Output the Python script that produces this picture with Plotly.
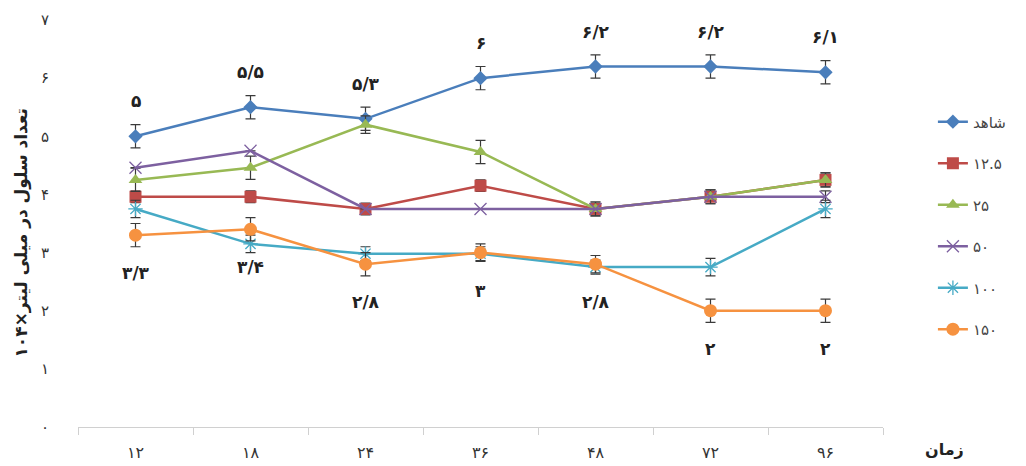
import plotly.graph_objects as go

# Sampling times (hours)
hours = [12, 18, 24, 36, 48, 72, 96]

# Cell counts (x10^4 per ml) for each treatment
control = [5.0, 5.5, 5.3, 6.0, 6.2, 6.2, 6.1]
c12_5 = [3.96, 3.96, 3.75, 4.15, 3.75, 3.96, 4.25]
c25 = [4.25, 4.46, 5.2, 4.73, 3.75, 3.96, 4.25]
c50 = [4.46, 4.75, 3.75, 3.75, 3.75, 3.96, 3.96]
c100 = [3.75, 3.15, 2.98, 2.98, 2.75, 2.75, 3.75]
c150 = [3.3, 3.4, 2.8, 3.0, 2.8, 2.0, 2.0]

# Standard errors
err_control = [0.2, 0.2, 0.2, 0.2, 0.2, 0.2, 0.2]
err_12_5 = [0.1, 0.1, 0.1, 0.1, 0.12, 0.12, 0.12]
err_25 = [0.2, 0.2, 0.15, 0.2, 0.12, 0.12, 0.12]
err_50 = [0.0, 0.0, 0.0, 0.0, 0.0, 0.0, 0.1]
err_100 = [0.15, 0.15, 0.12, 0.12, 0.12, 0.15, 0.15]
err_150 = [0.2, 0.2, 0.2, 0.15, 0.15, 0.2, 0.2]

names = ["شاهد", "۱۲.۵", "۲۵", "۵۰", "۱۰۰", "۱۵۰"]
y_ticks = [0, 1, 2, 3, 4, 5, 6, 7]

FA = str.maketrans("0123456789", "۰۱۲۳۴۵۶۷۸۹")


def fa(v):
    s = f"{v:g}"
    return s.translate(FA).replace(".", "/")


cats = [str(h).translate(FA) for h in hours]

series = [
    (control, err_control, "#4A7EBB", "diamond", 11),
    (c12_5, err_12_5, "#BE4B48", "square", 12),
    (c25, err_25, "#98B954", "triangle-up", 12),
    (c50, err_50, "#7D60A0", "x-thin-open", 12),
    (c100, err_100, "#46AAC5", "asterisk-open", 12),
    (c150, err_150, "#F69240", "circle", 13),
]

fig = go.Figure()
for i, (vals, err, col, sym, sz) in enumerate(series):
    open_sym = sym.endswith("open")
    fig.add_trace(go.Scatter(
        x=cats, y=vals, name=names[i], mode="lines+markers",
        line=dict(color=col, width=2.5),
        marker=dict(symbol=sym, size=sz, color=col,
                    line=dict(color=col, width=1.3 if open_sym else 0)),
        error_y=dict(type="data", array=err, visible=True,
                     color="#3a3a3a", thickness=1.2, width=5),
        legendgroup=f"g{i}",
    ))

# Value labels: control above, 150 below
label_font = dict(family="DejaVu Sans", size=17, color="#222222")
for c, v in zip(cats, control):
    fig.add_annotation(x=c, y=v, text=f"<b>{fa(v)}</b>", showarrow=False,
                       yshift=35, font=label_font)
for c, v in zip(cats, c150):
    fig.add_annotation(x=c, y=v, text=f"<b>{fa(v)}</b>", showarrow=False,
                       yshift=-38, font=label_font)

# Axis titles
fig.add_annotation(xref="paper", yref="paper", x=-0.07, y=0.477,
                   xanchor="center", yanchor="middle",
                   text="<b>تعداد سلول در میلی لیتر×۱۰۴</b>", textangle=-90,
                   showarrow=False,
                   font=dict(family="DejaVu Sans", size=17, color="#222222"))
fig.add_annotation(xref="paper", yref="paper", x=1.076, y=-0.0565,
                   xanchor="center", yanchor="middle",
                   text="<b>زمان</b>", showarrow=False,
                   font=dict(family="DejaVu Sans", size=16, color="#222222"))

fig.update_layout(
    width=1026, height=466,
    margin=dict(l=78, r=143, t=20, b=39),
    paper_bgcolor="white", plot_bgcolor="white",
    font=dict(family="DejaVu Sans", color="#333333"),
    showlegend=True,
    legend=dict(x=1.062, y=0.79, xanchor="left", yanchor="top",
                font=dict(size=15, color="#444444"),
                tracegroupgap=19, bgcolor="rgba(0,0,0,0)"),
    xaxis=dict(type="category", range=[-0.5, len(cats) - 0.5],
               automargin=False,
               showgrid=False, zeroline=False,
               showline=True, linecolor="#d0d0d0", linewidth=1,
               ticks="outside", tickson="boundaries", ticklen=7,
               tickcolor="#d0d0d0", ticklabelstandoff=11,
               tickfont=dict(size=16, color="#333333")),
    yaxis=dict(range=[0, 7], tickvals=y_ticks, automargin=False,
               ticktext=[str(t).translate(FA) for t in y_ticks],
               showgrid=False, zeroline=False, showline=False,
               ticklabelstandoff=28,
               tickfont=dict(size=15, color="#333333")),
)

fig.write_html("out.html")
